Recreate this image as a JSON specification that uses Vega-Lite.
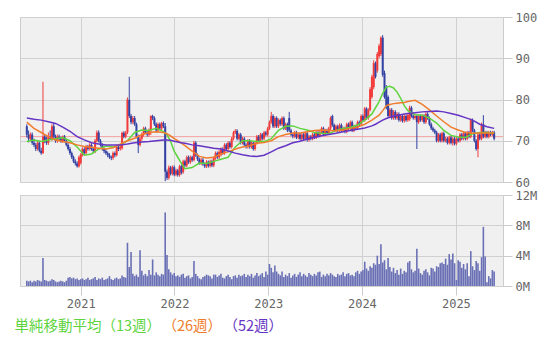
{
"$schema": "https://vega.github.io/schema/vega-lite/v6.json",
"padding": {"left": 14, "top": 10, "right": 0, "bottom": 0},
"background": "white",
"spacing": 13,
"bounds": "flush",
"config": {
  "view": {"fill": "#f0f0f0", "stroke": "#cccccc", "strokeWidth": 1},
  "axis": {"gridColor": "#d0d0d0", "gridWidth": 1, "tickColor": "#cccccc", "tickSize": 9, "domain": false, "labelColor": "#666666", "labelFont": "DejaVu Sans Mono", "labelFontSize": 12, "title": null, "labelPadding": 3}
},
"datasets": {
"k": [
{"d":"2020-06-05","o":73.5,"h":74,"l":70.8,"c":71.5,"v":0.7},
{"d":"2020-06-12","o":71.5,"h":72.5,"l":69.6,"c":70.5,"v":0.6},
{"d":"2020-06-19","o":70.5,"h":72,"l":70,"c":71.5,"v":0.7},
{"d":"2020-06-26","o":71.5,"h":72,"l":69,"c":69.5,"v":0.5},
{"d":"2020-07-03","o":69.5,"h":70.5,"l":68.5,"c":69,"v":0.7},
{"d":"2020-07-10","o":69,"h":69.5,"l":67.5,"c":68,"v":0.6},
{"d":"2020-07-17","o":68,"h":70,"l":67.6,"c":69.5,"v":0.8},
{"d":"2020-07-24","o":69.5,"h":70,"l":67.2,"c":67.6,"v":0.7},
{"d":"2020-07-31","o":67.6,"h":68.3,"l":66.6,"c":67,"v":0.6},
{"d":"2020-08-07","o":67,"h":84.3,"l":66.8,"c":71,"v":3.7},
{"d":"2020-08-14","o":71,"h":71.5,"l":69.4,"c":70,"v":0.8},
{"d":"2020-08-21","o":70,"h":71,"l":69,"c":69.5,"v":0.7},
{"d":"2020-08-28","o":69.5,"h":72,"l":69,"c":71,"v":0.6},
{"d":"2020-09-04","o":71,"h":72.5,"l":70.2,"c":70.5,"v":0.7},
{"d":"2020-09-11","o":70.5,"h":74,"l":70,"c":73.5,"v":0.9},
{"d":"2020-09-18","o":73.5,"h":74.3,"l":70.5,"c":71,"v":0.8},
{"d":"2020-09-25","o":71,"h":71.5,"l":69.5,"c":70,"v":0.6},
{"d":"2020-10-02","o":70,"h":71.5,"l":69.5,"c":71,"v":0.5},
{"d":"2020-10-09","o":71,"h":71.5,"l":70,"c":70.4,"v":0.6},
{"d":"2020-10-16","o":70.4,"h":71,"l":69.5,"c":69.8,"v":0.7},
{"d":"2020-10-23","o":69.8,"h":71.3,"l":69.5,"c":71,"v":0.6},
{"d":"2020-10-30","o":71,"h":71.4,"l":69.6,"c":70,"v":0.5},
{"d":"2020-11-06","o":70,"h":70.5,"l":68.6,"c":69,"v":0.7},
{"d":"2020-11-13","o":69,"h":69.4,"l":67.6,"c":68,"v":1.1},
{"d":"2020-11-20","o":68,"h":68.5,"l":66.6,"c":67,"v":1.2},
{"d":"2020-11-27","o":67,"h":67.4,"l":65.6,"c":66,"v":1.0},
{"d":"2020-12-04","o":66,"h":66.4,"l":64.6,"c":65,"v":1.1},
{"d":"2020-12-11","o":65,"h":65.5,"l":64,"c":64.5,"v":0.9},
{"d":"2020-12-18","o":64.5,"h":65,"l":63.5,"c":63.8,"v":1.0},
{"d":"2020-12-25","o":63.8,"h":66.4,"l":63.5,"c":66,"v":0.8},
{"d":"2021-01-01","o":64.6,"h":67,"l":64.2,"c":66.6,"v":0.9},
{"d":"2021-01-08","o":66.6,"h":68.4,"l":66.2,"c":68,"v":1.0},
{"d":"2021-01-15","o":68,"h":68.4,"l":66.6,"c":67,"v":0.8},
{"d":"2021-01-22","o":67,"h":69,"l":66.6,"c":68.5,"v":0.9},
{"d":"2021-01-29","o":68.5,"h":69,"l":67.6,"c":68,"v":1.1},
{"d":"2021-02-05","o":68,"h":69.4,"l":67.6,"c":69,"v":0.8},
{"d":"2021-02-12","o":69,"h":69.4,"l":67.6,"c":68,"v":0.9},
{"d":"2021-02-19","o":68,"h":68.5,"l":67,"c":67.5,"v":1.0},
{"d":"2021-02-26","o":67.5,"h":70.4,"l":67,"c":70,"v":1.2},
{"d":"2021-03-05","o":70,"h":72.5,"l":69.6,"c":72,"v":0.8},
{"d":"2021-03-12","o":72,"h":72.5,"l":69.6,"c":70,"v":1.0},
{"d":"2021-03-19","o":70,"h":70.4,"l":68.6,"c":69,"v":0.9},
{"d":"2021-03-26","o":69,"h":69.4,"l":67.6,"c":68,"v":1.1},
{"d":"2021-04-02","o":68,"h":68.4,"l":67,"c":67.5,"v":0.8},
{"d":"2021-04-09","o":67.5,"h":68,"l":66.6,"c":67,"v":0.9},
{"d":"2021-04-16","o":67,"h":67.4,"l":66,"c":66.5,"v":1.0},
{"d":"2021-04-23","o":66.5,"h":67,"l":65.6,"c":66,"v":1.3},
{"d":"2021-04-30","o":66,"h":66.4,"l":65.3,"c":65.8,"v":0.9},
{"d":"2021-05-07","o":65.8,"h":67.4,"l":65.4,"c":67,"v":0.8},
{"d":"2021-05-14","o":67,"h":67.4,"l":66,"c":66.5,"v":1.0},
{"d":"2021-05-21","o":66.5,"h":69,"l":66.2,"c":68.5,"v":1.1},
{"d":"2021-05-28","o":68.5,"h":68.9,"l":67.5,"c":68,"v":0.9},
{"d":"2021-06-04","o":68,"h":69,"l":67.6,"c":68.6,"v":1.0},
{"d":"2021-06-11","o":68.2,"h":72.2,"l":67.8,"c":71.9,"v":1.4},
{"d":"2021-06-18","o":71.9,"h":72.3,"l":70.6,"c":71,"v":1.2},
{"d":"2021-06-25","o":71,"h":72.4,"l":70.6,"c":72,"v":1.1},
{"d":"2021-07-02","o":72,"h":80.5,"l":71.6,"c":80,"v":5.7},
{"d":"2021-07-09","o":79.9,"h":85.5,"l":75.5,"c":76,"v":2.5},
{"d":"2021-07-16","o":76,"h":76.5,"l":74,"c":74.5,"v":4.5},
{"d":"2021-07-23","o":74.5,"h":76,"l":74,"c":75.5,"v":1.6},
{"d":"2021-07-30","o":75.5,"h":76,"l":73.6,"c":74,"v":1.3},
{"d":"2021-08-06","o":74,"h":74.4,"l":70.6,"c":71,"v":1.5},
{"d":"2021-08-13","o":71,"h":71.5,"l":67,"c":69,"v":1.2},
{"d":"2021-08-20","o":69,"h":71,"l":68.6,"c":70.5,"v":4.7},
{"d":"2021-08-27","o":70.5,"h":72,"l":70,"c":71.5,"v":2.0},
{"d":"2021-09-03","o":71.5,"h":73.4,"l":71,"c":73,"v":1.4},
{"d":"2021-09-10","o":73,"h":73.4,"l":71.6,"c":72,"v":1.6},
{"d":"2021-09-17","o":72,"h":72.4,"l":71,"c":71.5,"v":1.3},
{"d":"2021-09-24","o":71.5,"h":73,"l":71,"c":72.5,"v":2.1},
{"d":"2021-10-01","o":72.5,"h":76.2,"l":71.4,"c":76,"v":1.5},
{"d":"2021-10-08","o":76,"h":76.3,"l":75,"c":75.5,"v":3.5},
{"d":"2021-10-15","o":75.5,"h":75.9,"l":73.6,"c":74,"v":1.4},
{"d":"2021-10-22","o":74,"h":74.4,"l":72,"c":72.5,"v":1.8},
{"d":"2021-10-29","o":72.5,"h":74.4,"l":72,"c":74,"v":1.5},
{"d":"2021-11-05","o":74,"h":74.4,"l":72.6,"c":73,"v":1.3},
{"d":"2021-11-12","o":73,"h":74.6,"l":72.6,"c":74.3,"v":1.6},
{"d":"2021-11-19","o":74.3,"h":74.7,"l":73.1,"c":73.5,"v":1.5},
{"d":"2021-11-26","o":73.5,"h":74.3,"l":60.2,"c":62.5,"v":9.7},
{"d":"2021-12-03","o":62.5,"h":63,"l":60.5,"c":61,"v":4.1},
{"d":"2021-12-10","o":61,"h":64,"l":60.6,"c":63.5,"v":2.2},
{"d":"2021-12-17","o":63.5,"h":63.9,"l":61.6,"c":62,"v":1.8},
{"d":"2021-12-24","o":62,"h":64,"l":61.6,"c":63.6,"v":1.5},
{"d":"2021-12-31","o":63.6,"h":64,"l":61.4,"c":61.8,"v":1.7},
{"d":"2022-01-07","o":61.8,"h":63.2,"l":61.4,"c":62.8,"v":1.3},
{"d":"2022-01-14","o":62.8,"h":63.2,"l":61.3,"c":61.7,"v":1.4},
{"d":"2022-01-21","o":61.7,"h":64.2,"l":61.3,"c":63.8,"v":1.2},
{"d":"2022-01-28","o":63.8,"h":64.2,"l":61.8,"c":62.2,"v":1.5},
{"d":"2022-02-04","o":62.4,"h":65.4,"l":62,"c":65,"v":1.6},
{"d":"2022-02-11","o":65,"h":65.4,"l":63.6,"c":64,"v":1.1},
{"d":"2022-02-18","o":64,"h":66.4,"l":63.6,"c":66,"v":1.3},
{"d":"2022-02-25","o":66,"h":66.4,"l":64.4,"c":64.8,"v":1.4},
{"d":"2022-03-04","o":64.8,"h":66.4,"l":64.4,"c":66,"v":1.0},
{"d":"2022-03-11","o":66,"h":66.4,"l":64.9,"c":65.3,"v":1.2},
{"d":"2022-03-18","o":65.3,"h":70,"l":65,"c":69.5,"v":3.3},
{"d":"2022-03-25","o":69.5,"h":69.9,"l":66.1,"c":66.5,"v":1.6},
{"d":"2022-04-01","o":66.5,"h":66.9,"l":65.1,"c":65.5,"v":1.3},
{"d":"2022-04-08","o":65.5,"h":65.9,"l":64.2,"c":64.6,"v":1.0},
{"d":"2022-04-15","o":64.6,"h":65.8,"l":64.1,"c":65.4,"v":0.9},
{"d":"2022-04-22","o":65.4,"h":65.8,"l":63.9,"c":64.3,"v":1.2},
{"d":"2022-04-29","o":64.3,"h":64.7,"l":63.4,"c":63.8,"v":1.3},
{"d":"2022-05-06","o":63.8,"h":65.3,"l":63.4,"c":64.9,"v":1.5},
{"d":"2022-05-13","o":64.9,"h":65.2,"l":63.5,"c":63.9,"v":1.4},
{"d":"2022-05-20","o":63.9,"h":65.4,"l":63.5,"c":65,"v":1.3},
{"d":"2022-05-27","o":65,"h":65.4,"l":63.6,"c":64,"v":1.0},
{"d":"2022-06-03","o":64,"h":66.2,"l":63.6,"c":65.8,"v":1.5},
{"d":"2022-06-10","o":65.8,"h":67.4,"l":65.4,"c":67,"v":1.5},
{"d":"2022-06-17","o":67,"h":67.4,"l":65.6,"c":66,"v":1.2},
{"d":"2022-06-24","o":66,"h":67.7,"l":65.6,"c":67.3,"v":1.4},
{"d":"2022-07-01","o":66.6,"h":68.4,"l":66.2,"c":68,"v":1.6},
{"d":"2022-07-08","o":68,"h":68.4,"l":66.6,"c":67,"v":1.1},
{"d":"2022-07-15","o":67,"h":69.4,"l":66.6,"c":69,"v":1.0},
{"d":"2022-07-22","o":69,"h":69.4,"l":67.6,"c":68,"v":1.3},
{"d":"2022-07-29","o":68,"h":69.9,"l":67.6,"c":69.5,"v":1.5},
{"d":"2022-08-05","o":69.5,"h":69.9,"l":68.1,"c":68.5,"v":1.2},
{"d":"2022-08-12","o":68.5,"h":70.9,"l":68.1,"c":70.5,"v":0.9},
{"d":"2022-08-19","o":70.5,"h":72.4,"l":70.1,"c":72,"v":1.3},
{"d":"2022-08-26","o":72,"h":72.8,"l":71.6,"c":72.4,"v":1.4},
{"d":"2022-09-02","o":72.4,"h":72.8,"l":70.1,"c":70.5,"v":1.1},
{"d":"2022-09-09","o":70.5,"h":71.9,"l":70.1,"c":71.5,"v":1.5},
{"d":"2022-09-16","o":71.5,"h":71.9,"l":69.1,"c":69.5,"v":1.3},
{"d":"2022-09-23","o":69.5,"h":70.9,"l":69.1,"c":70.5,"v":1.4},
{"d":"2022-09-30","o":70.5,"h":70.9,"l":68.6,"c":69,"v":1.6},
{"d":"2022-10-07","o":69,"h":69.4,"l":68.1,"c":68.5,"v":1.2},
{"d":"2022-10-14","o":68.5,"h":70.4,"l":68.1,"c":70,"v":1.5},
{"d":"2022-10-21","o":70,"h":70.4,"l":68.1,"c":68.5,"v":1.3},
{"d":"2022-10-28","o":68.5,"h":69.9,"l":68.1,"c":69.5,"v":1.6},
{"d":"2022-11-04","o":69.5,"h":69.9,"l":67.6,"c":68,"v":1.1},
{"d":"2022-11-11","o":68,"h":69.9,"l":67.6,"c":69.5,"v":1.4},
{"d":"2022-11-18","o":69.5,"h":71.4,"l":69.1,"c":71,"v":1.7},
{"d":"2022-11-25","o":71,"h":71.4,"l":69.6,"c":70,"v":1.3},
{"d":"2022-12-02","o":70,"h":71.9,"l":69.6,"c":71.5,"v":1.5},
{"d":"2022-12-09","o":71.5,"h":71.9,"l":70.1,"c":70.5,"v":1.7},
{"d":"2022-12-16","o":70.5,"h":72.4,"l":70.1,"c":72,"v":1.2},
{"d":"2022-12-23","o":72,"h":72.4,"l":71.1,"c":71.5,"v":1.9},
{"d":"2022-12-30","o":71.5,"h":73.4,"l":71.1,"c":73,"v":1.5},
{"d":"2023-01-06","o":73,"h":74.9,"l":72.6,"c":74.5,"v":2.9},
{"d":"2023-01-13","o":74.5,"h":77,"l":74.1,"c":76,"v":2.4},
{"d":"2023-01-20","o":76,"h":76.4,"l":73.1,"c":73.5,"v":1.8},
{"d":"2023-01-27","o":73.5,"h":75.9,"l":73.1,"c":75.5,"v":2.7},
{"d":"2023-02-03","o":75.5,"h":75.9,"l":73.1,"c":73.5,"v":1.9},
{"d":"2023-02-10","o":73.5,"h":75.4,"l":73.1,"c":75,"v":1.6},
{"d":"2023-02-17","o":75,"h":75.4,"l":73.6,"c":74,"v":1.4},
{"d":"2023-02-24","o":74,"h":75.9,"l":73.6,"c":75.5,"v":1.9},
{"d":"2023-03-03","o":75.5,"h":75.9,"l":72.6,"c":73,"v":1.2},
{"d":"2023-03-10","o":73,"h":74.4,"l":72.6,"c":74,"v":1.5},
{"d":"2023-03-17","o":74,"h":74.4,"l":72.1,"c":72.5,"v":1.3},
{"d":"2023-03-24","o":75.5,"h":77,"l":72.1,"c":72.5,"v":1.7},
{"d":"2023-03-31","o":72.5,"h":72.9,"l":71.1,"c":71.5,"v":1.1},
{"d":"2023-04-07","o":71.5,"h":71.9,"l":70.6,"c":71.1,"v":1.4},
{"d":"2023-04-14","o":71.1,"h":72.4,"l":70.7,"c":72,"v":1.6},
{"d":"2023-04-21","o":72,"h":72.4,"l":70.4,"c":70.8,"v":1.2},
{"d":"2023-04-28","o":70.8,"h":71.9,"l":70.4,"c":71.5,"v":1.5},
{"d":"2023-05-05","o":71.5,"h":71.9,"l":70.1,"c":70.5,"v":1.8},
{"d":"2023-05-12","o":70.5,"h":71.9,"l":70.1,"c":71.5,"v":1.3},
{"d":"2023-05-19","o":71.5,"h":71.9,"l":70.1,"c":70.5,"v":1.6},
{"d":"2023-05-26","o":70.5,"h":72.2,"l":70.1,"c":71.8,"v":1.4},
{"d":"2023-06-02","o":71.8,"h":72.2,"l":69.8,"c":70.2,"v":1.2},
{"d":"2023-06-09","o":70.2,"h":71.4,"l":69.8,"c":71,"v":1.7},
{"d":"2023-06-16","o":71,"h":71.4,"l":70.1,"c":70.5,"v":1.5},
{"d":"2023-06-23","o":70.5,"h":71.9,"l":70.1,"c":71.5,"v":1.3},
{"d":"2023-06-30","o":71.5,"h":71.9,"l":70.4,"c":70.8,"v":1.6},
{"d":"2023-07-07","o":70.8,"h":72.4,"l":70.4,"c":72,"v":1.4},
{"d":"2023-07-14","o":72,"h":72.4,"l":70.8,"c":71.2,"v":1.8},
{"d":"2023-07-21","o":71.2,"h":72.4,"l":70.8,"c":72,"v":1.9},
{"d":"2023-07-28","o":72,"h":73.4,"l":71.6,"c":73,"v":1.2},
{"d":"2023-08-04","o":73,"h":73.4,"l":71.1,"c":71.5,"v":1.5},
{"d":"2023-08-11","o":71.5,"h":72.9,"l":71.1,"c":72.5,"v":1.3},
{"d":"2023-08-18","o":72.5,"h":72.9,"l":71.4,"c":71.8,"v":1.6},
{"d":"2023-08-25","o":71.8,"h":73.4,"l":71.4,"c":73,"v":1.4},
{"d":"2023-09-01","o":73,"h":75.9,"l":72.6,"c":75.5,"v":1.7},
{"d":"2023-09-08","o":76,"h":76.3,"l":73.4,"c":73.8,"v":1.5},
{"d":"2023-09-15","o":73.8,"h":74.2,"l":72.1,"c":72.5,"v":1.3},
{"d":"2023-09-22","o":72.5,"h":73.9,"l":72.1,"c":73.5,"v":1.2},
{"d":"2023-09-29","o":73.5,"h":73.9,"l":72.1,"c":72.5,"v":1.6},
{"d":"2023-10-06","o":72.5,"h":74.2,"l":72.1,"c":73.8,"v":1.4},
{"d":"2023-10-13","o":73.8,"h":74.2,"l":72.1,"c":72.5,"v":1.5},
{"d":"2023-10-20","o":72.5,"h":73.4,"l":72.1,"c":73,"v":1.8},
{"d":"2023-10-27","o":73,"h":73.4,"l":71.8,"c":72.2,"v":1.3},
{"d":"2023-11-03","o":72.2,"h":74.4,"l":71.8,"c":74,"v":1.6},
{"d":"2023-11-10","o":74,"h":74.4,"l":72.6,"c":73,"v":1.7},
{"d":"2023-11-17","o":73,"h":74.9,"l":72.6,"c":74.5,"v":1.4},
{"d":"2023-11-24","o":74.5,"h":74.9,"l":72.1,"c":72.5,"v":1.5},
{"d":"2023-12-01","o":72.5,"h":73.9,"l":72.1,"c":73.5,"v":1.3},
{"d":"2023-12-08","o":73.5,"h":73.9,"l":72.6,"c":73,"v":1.8},
{"d":"2023-12-15","o":73,"h":74.9,"l":72.6,"c":74.5,"v":2.0},
{"d":"2023-12-22","o":74.5,"h":74.9,"l":73.6,"c":74,"v":1.6},
{"d":"2023-12-29","o":74,"h":76.4,"l":73.6,"c":76,"v":1.9},
{"d":"2024-01-05","o":76,"h":76.4,"l":74.6,"c":75,"v":2.1},
{"d":"2024-01-12","o":75,"h":78.2,"l":74.6,"c":77.8,"v":3.2},
{"d":"2024-01-19","o":77.8,"h":78.1,"l":75.1,"c":75.5,"v":2.3},
{"d":"2024-01-26","o":75.5,"h":77.9,"l":75.1,"c":77.5,"v":2.0},
{"d":"2024-02-02","o":77.5,"h":83,"l":77.1,"c":82.5,"v":2.6},
{"d":"2024-02-09","o":80.6,"h":86,"l":80.2,"c":85.5,"v":2.4},
{"d":"2024-02-16","o":83,"h":89.5,"l":82.5,"c":88.8,"v":3.0},
{"d":"2024-02-23","o":88.8,"h":89.2,"l":85.1,"c":85.5,"v":2.8},
{"d":"2024-03-01","o":87,"h":91.5,"l":86.5,"c":91,"v":4.0},
{"d":"2024-03-08","o":90.5,"h":93.5,"l":90,"c":93,"v":2.9},
{"d":"2024-03-15","o":91,"h":95.3,"l":90.5,"c":95,"v":5.5},
{"d":"2024-03-22","o":95,"h":95.6,"l":85.5,"c":86,"v":3.1},
{"d":"2024-03-29","o":86.4,"h":87,"l":80.2,"c":80.6,"v":3.4},
{"d":"2024-04-05","o":83,"h":83.5,"l":77.6,"c":78,"v":2.2},
{"d":"2024-04-12","o":80.6,"h":81,"l":75.6,"c":76,"v":3.7},
{"d":"2024-04-19","o":76,"h":77.9,"l":75.6,"c":77.5,"v":2.5},
{"d":"2024-04-26","o":77.5,"h":77.9,"l":75.1,"c":75.5,"v":1.9},
{"d":"2024-05-03","o":75.5,"h":77.4,"l":75.1,"c":77,"v":2.4},
{"d":"2024-05-10","o":77,"h":77.4,"l":75.1,"c":75.5,"v":1.7},
{"d":"2024-05-17","o":75.5,"h":76.9,"l":75.1,"c":76.5,"v":2.1},
{"d":"2024-05-24","o":76.5,"h":76.9,"l":74.6,"c":75,"v":1.5},
{"d":"2024-05-31","o":75,"h":76.4,"l":74.6,"c":76,"v":2.3},
{"d":"2024-06-07","o":76,"h":76.4,"l":74.4,"c":74.8,"v":1.6},
{"d":"2024-06-14","o":74.8,"h":76.4,"l":74.4,"c":76,"v":2.0},
{"d":"2024-06-21","o":76,"h":76.4,"l":74.6,"c":75,"v":1.8},
{"d":"2024-06-28","o":75,"h":76.6,"l":74.6,"c":76.2,"v":3.1},
{"d":"2024-07-05","o":75.2,"h":78.5,"l":74.8,"c":78,"v":3.3},
{"d":"2024-07-12","o":78,"h":78.4,"l":75.6,"c":76,"v":2.2},
{"d":"2024-07-19","o":76,"h":76.4,"l":75.1,"c":75.5,"v":1.8},
{"d":"2024-07-26","o":75.5,"h":76.4,"l":75.1,"c":76,"v":2.0},
{"d":"2024-08-02","o":76,"h":76.4,"l":68,"c":74.5,"v":4.9},
{"d":"2024-08-09","o":74.5,"h":76.4,"l":74.1,"c":76,"v":2.3},
{"d":"2024-08-16","o":76,"h":76.4,"l":74.6,"c":75,"v":1.7},
{"d":"2024-08-23","o":75,"h":76.4,"l":74.6,"c":76,"v":1.5},
{"d":"2024-08-30","o":76,"h":76.4,"l":74.1,"c":74.5,"v":2.0},
{"d":"2024-09-06","o":74.5,"h":76.9,"l":74.1,"c":76.5,"v":2.2},
{"d":"2024-09-13","o":76.5,"h":76.9,"l":75.1,"c":75.5,"v":1.8},
{"d":"2024-09-20","o":75.5,"h":75.9,"l":73.6,"c":74,"v":1.4},
{"d":"2024-09-27","o":74,"h":74.4,"l":72.6,"c":73,"v":2.4},
{"d":"2024-10-04","o":73,"h":73.4,"l":72.1,"c":72.5,"v":2.3},
{"d":"2024-10-11","o":72.5,"h":72.9,"l":71.6,"c":72,"v":1.9},
{"d":"2024-10-18","o":72,"h":72.4,"l":69.6,"c":70,"v":2.6},
{"d":"2024-10-25","o":70,"h":71.9,"l":69.6,"c":71.5,"v":2.5},
{"d":"2024-11-01","o":71.5,"h":71.9,"l":69.6,"c":70,"v":3.0},
{"d":"2024-11-08","o":70,"h":72.2,"l":69.6,"c":71.8,"v":3.1},
{"d":"2024-11-15","o":71.8,"h":72.2,"l":69.6,"c":70,"v":2.9},
{"d":"2024-11-22","o":70,"h":70.9,"l":69.6,"c":70.5,"v":3.6},
{"d":"2024-11-29","o":70.5,"h":70.9,"l":69.1,"c":69.5,"v":2.8},
{"d":"2024-12-06","o":69.5,"h":71.2,"l":69.1,"c":70.8,"v":4.2},
{"d":"2024-12-13","o":70.8,"h":71.2,"l":69.1,"c":69.5,"v":3.5},
{"d":"2024-12-20","o":69.5,"h":70.9,"l":68.8,"c":70.5,"v":4.3},
{"d":"2024-12-27","o":70.5,"h":70.9,"l":68.9,"c":69.3,"v":3.0},
{"d":"2025-01-03","o":69.3,"h":70.9,"l":68.9,"c":70.5,"v":0.8},
{"d":"2025-01-10","o":70.5,"h":70.9,"l":69.6,"c":70,"v":3.4},
{"d":"2025-01-17","o":70,"h":71.9,"l":69.6,"c":71.5,"v":3.2},
{"d":"2025-01-24","o":71.5,"h":71.9,"l":70.1,"c":70.5,"v":2.4},
{"d":"2025-01-31","o":70.5,"h":72.2,"l":70.1,"c":71.8,"v":2.9},
{"d":"2025-02-07","o":71.8,"h":72.2,"l":70.1,"c":70.5,"v":2.2},
{"d":"2025-02-14","o":70.5,"h":72.4,"l":70.1,"c":72,"v":3.0},
{"d":"2025-02-21","o":72,"h":72.4,"l":70.6,"c":71,"v":1.3},
{"d":"2025-02-28","o":71,"h":75.4,"l":70.6,"c":75,"v":4.6},
{"d":"2025-03-07","o":75,"h":75.4,"l":72.1,"c":72.5,"v":2.6},
{"d":"2025-03-14","o":72.5,"h":72.9,"l":69.6,"c":70,"v":2.1},
{"d":"2025-03-21","o":70,"h":70.4,"l":67.6,"c":68,"v":3.3},
{"d":"2025-03-28","o":68,"h":71.9,"l":66,"c":71.5,"v":3.0},
{"d":"2025-04-04","o":71.5,"h":71.9,"l":70.1,"c":70.5,"v":2.0},
{"d":"2025-04-11","o":70.5,"h":74.4,"l":70.1,"c":74,"v":3.8},
{"d":"2025-04-18","o":74,"h":76.2,"l":70.6,"c":71,"v":7.8},
{"d":"2025-04-25","o":71,"h":72.4,"l":70.6,"c":72,"v":3.9},
{"d":"2025-05-02","o":72,"h":72.4,"l":70.6,"c":71,"v":0.5},
{"d":"2025-05-09","o":71,"h":72.4,"l":70.6,"c":72,"v":1.3},
{"d":"2025-05-16","o":72,"h":72.4,"l":71.1,"c":71.5,"v":1.0},
{"d":"2025-05-23","o":71.5,"h":72.4,"l":71.1,"c":72,"v":2.1},
{"d":"2025-05-30","o":72,"h":72.4,"l":70.1,"c":70.5,"v":1.9}
],
"ma": [
{"d":"2020-06-05","m13":69.8,"m26":74.5,"m52":75.5},
{"d":"2020-07-03","m13":70.2,"m26":73,"m52":75.2},
{"d":"2020-07-31","m13":69.8,"m26":72,"m52":75},
{"d":"2020-08-28","m13":70.2,"m26":71,"m52":74.6},
{"d":"2020-09-25","m13":70.5,"m26":70.2,"m52":74.2},
{"d":"2020-10-23","m13":70.8,"m26":69.8,"m52":73.3},
{"d":"2020-11-20","m13":70,"m26":69.5,"m52":72.3},
{"d":"2020-12-18","m13":68.5,"m26":69,"m52":71},
{"d":"2021-01-15","m13":66.5,"m26":68.6,"m52":70.2},
{"d":"2021-02-12","m13":66.8,"m26":68.4,"m52":69.5},
{"d":"2021-03-12","m13":68,"m26":68.2,"m52":69.2},
{"d":"2021-04-09","m13":68.7,"m26":68,"m52":69},
{"d":"2021-05-07","m13":68.5,"m26":68.3,"m52":69},
{"d":"2021-06-04","m13":69,"m26":69.2,"m52":69},
{"d":"2021-07-02","m13":70,"m26":70,"m52":69.2},
{"d":"2021-07-30","m13":72,"m26":70.6,"m52":69.5},
{"d":"2021-08-27","m13":72.6,"m26":71.5,"m52":69.7},
{"d":"2021-09-24","m13":72.5,"m26":72,"m52":69.8},
{"d":"2021-10-22","m13":73,"m26":72.2,"m52":70},
{"d":"2021-11-19","m13":72.2,"m26":72,"m52":70.2},
{"d":"2021-12-03","m13":71.5,"m26":71.7,"m52":70.2},
{"d":"2021-12-17","m13":69.8,"m26":71.2,"m52":70.1},
{"d":"2021-12-31","m13":67.5,"m26":70.5,"m52":69.9},
{"d":"2022-01-14","m13":66,"m26":70,"m52":69.7},
{"d":"2022-01-28","m13":64.5,"m26":69.4,"m52":69.5},
{"d":"2022-02-11","m13":63.2,"m26":68.8,"m52":69.4},
{"d":"2022-03-11","m13":63.5,"m26":67.5,"m52":69},
{"d":"2022-04-08","m13":64.6,"m26":66.2,"m52":68.8},
{"d":"2022-05-06","m13":64.5,"m26":65.8,"m52":68.5},
{"d":"2022-06-03","m13":65,"m26":66,"m52":68.2},
{"d":"2022-07-01","m13":65.5,"m26":66.8,"m52":68},
{"d":"2022-07-29","m13":66,"m26":67.3,"m52":67.5},
{"d":"2022-08-26","m13":68.5,"m26":68,"m52":67},
{"d":"2022-09-23","m13":70,"m26":68.5,"m52":66.6},
{"d":"2022-10-21","m13":70,"m26":68.8,"m52":66.3},
{"d":"2022-11-18","m13":69.8,"m26":69.4,"m52":66.2},
{"d":"2022-12-16","m13":69.8,"m26":69.6,"m52":66.5},
{"d":"2023-01-13","m13":70.5,"m26":70,"m52":67.3},
{"d":"2023-02-10","m13":72.5,"m26":71,"m52":68.2},
{"d":"2023-03-10","m13":73.5,"m26":71.5,"m52":68.8},
{"d":"2023-04-07","m13":73.6,"m26":71.9,"m52":69.5},
{"d":"2023-05-05","m13":73,"m26":71.9,"m52":69.9},
{"d":"2023-06-02","m13":72.6,"m26":72.2,"m52":70.4},
{"d":"2023-06-30","m13":72,"m26":72.5,"m52":70.8},
{"d":"2023-07-28","m13":71.8,"m26":72.6,"m52":71.2},
{"d":"2023-08-25","m13":71.7,"m26":72.5,"m52":71.5},
{"d":"2023-09-22","m13":72.5,"m26":72.4,"m52":71.8},
{"d":"2023-10-20","m13":73,"m26":72.6,"m52":72.2},
{"d":"2023-11-17","m13":73.2,"m26":73,"m52":72.5},
{"d":"2023-12-15","m13":73.8,"m26":73.3,"m52":72.8},
{"d":"2024-01-12","m13":75,"m26":74,"m52":73.1},
{"d":"2024-02-09","m13":76.5,"m26":75,"m52":73.6},
{"d":"2024-02-23","m13":78,"m26":75.6,"m52":74},
{"d":"2024-03-08","m13":79.5,"m26":76.2,"m52":74.5},
{"d":"2024-03-22","m13":81.5,"m26":77.3,"m52":75},
{"d":"2024-04-05","m13":83,"m26":78.5,"m52":75.4},
{"d":"2024-04-19","m13":83.2,"m26":78.8,"m52":75.7},
{"d":"2024-05-03","m13":82.8,"m26":79,"m52":76},
{"d":"2024-05-17","m13":81.8,"m26":79.1,"m52":76.1},
{"d":"2024-05-31","m13":80.3,"m26":79.2,"m52":76.3},
{"d":"2024-06-14","m13":78.5,"m26":79.3,"m52":76.5},
{"d":"2024-06-28","m13":77.3,"m26":79.5,"m52":76.6},
{"d":"2024-07-26","m13":76.3,"m26":79.8,"m52":76.8},
{"d":"2024-08-23","m13":76.2,"m26":78.8,"m52":77},
{"d":"2024-09-20","m13":75.5,"m26":77.5,"m52":77.1},
{"d":"2024-10-18","m13":74.3,"m26":76,"m52":77.2},
{"d":"2024-11-15","m13":72.5,"m26":74.6,"m52":77},
{"d":"2024-12-13","m13":71.3,"m26":73.3,"m52":76.6},
{"d":"2025-01-10","m13":70.9,"m26":72.6,"m52":76.2},
{"d":"2025-02-07","m13":70.8,"m26":72,"m52":75.6},
{"d":"2025-03-07","m13":71.7,"m26":71.8,"m52":75},
{"d":"2025-04-04","m13":72,"m26":71.9,"m52":74},
{"d":"2025-05-02","m13":72,"m26":71.9,"m52":73.4},
{"d":"2025-05-30","m13":71.8,"m26":71.9,"m52":73}
]
},
"vconcat": [
{
  "width": 483, "height": 165,
  "layer": [
    {
      "data": {"values": [{}]},
      "mark": {"type": "rule", "color": "#f4a0a0", "strokeWidth": 1},
      "encoding": {"y": {"datum": 71, "type": "quantitative", "scale": {"domain": [60, 100], "nice": false}}}
    },
    {
      "data": {"name": "k"},
      "mark": {"type": "rule", "strokeWidth": 1},
      "encoding": {
        "x": {"field": "d", "type": "temporal", "scale": {"type": "utc", "domain": [{"year": 2020, "month": 5, "date": 29, "utc": true}, {"year": 2025, "month": 6, "date": 14, "utc": true}]},
              "axis": {"orient": "bottom", "labels": false, "ticks": false, "domain": false, "grid": true, "values": [{"year": 2021, "month": 1, "date": 1, "utc": true}, {"year": 2022, "month": 1, "date": 1, "utc": true}, {"year": 2023, "month": 1, "date": 1, "utc": true}, {"year": 2024, "month": 1, "date": 1, "utc": true}, {"year": 2025, "month": 1, "date": 1, "utc": true}]}},
        "y": {"field": "l", "type": "quantitative", "scale": {"domain": [60, 100], "nice": false},
              "axis": {"orient": "right", "values": [60, 70, 80, 90, 100], "grid": true}},
        "y2": {"field": "h"},
        "color": {"condition": {"test": "datum.c >= datum.o", "value": "#f23b3b"}, "value": "#3341a3"}
      }
    },
    {
      "data": {"name": "k"},
      "mark": {"type": "bar", "size": 2},
      "encoding": {
        "x": {"field": "d", "type": "temporal"},
        "y": {"field": "o", "type": "quantitative"},
        "y2": {"field": "c"},
        "color": {"condition": {"test": "datum.c >= datum.o", "value": "#f23b3b"}, "value": "#3341a3"}
      }
    },
    {
      "data": {"name": "ma"},
      "transform": [{"fold": ["m13", "m26", "m52"], "as": ["key", "val"]}],
      "mark": {"type": "line", "strokeWidth": 1.5},
      "encoding": {
        "x": {"field": "d", "type": "temporal"},
        "y": {"field": "val", "type": "quantitative"},
        "color": {"field": "key", "type": "nominal",
                  "scale": {"domain": ["m13", "m26", "m52"], "range": ["#5fd43f", "#ef7d2d", "#6534c4"]},
                  "legend": {"orient": "none", "legendX": -6, "legendY": 303, "direction": "horizontal", "title": null,
                             "symbolSize": 0, "symbolStrokeWidth": 0, "symbolOpacity": 0, "labelOffset": -14, "columnPadding": 0,
                             "labelFont": "Noto Sans CJK JP", "labelFontSize": 14.5, "labelLimit": 400,
                             "labelExpr": "datum.label == 'm13' ? '単純移動平均（13週）' : datum.label == 'm26' ? '（26週）' : '（52週）'",
                             "encode": {"labels": {"update": {"fill": {"scale": "color", "field": "value"}}}}}}
      }
    }
  ]
},
{
  "width": 483, "height": 91,
  "data": {"name": "k"},
  "mark": {"type": "bar", "size": 1.6, "color": "#6a70b5"},
  "encoding": {
    "x": {"field": "d", "type": "temporal", "scale": {"type": "utc", "domain": [{"year": 2020, "month": 5, "date": 29, "utc": true}, {"year": 2025, "month": 6, "date": 14, "utc": true}]},
          "axis": {"orient": "bottom", "grid": true, "format": "%Y", "formatType": "utc", "values": [{"year": 2021, "month": 1, "date": 1, "utc": true}, {"year": 2022, "month": 1, "date": 1, "utc": true}, {"year": 2023, "month": 1, "date": 1, "utc": true}, {"year": 2024, "month": 1, "date": 1, "utc": true}, {"year": 2025, "month": 1, "date": 1, "utc": true}]}},
    "y": {"field": "v", "type": "quantitative", "scale": {"domain": [0, 12], "nice": false},
          "axis": {"orient": "right", "values": [0, 4, 8, 12], "grid": true, "labelExpr": "datum.value + 'M'"}}
  }
}
]
}
